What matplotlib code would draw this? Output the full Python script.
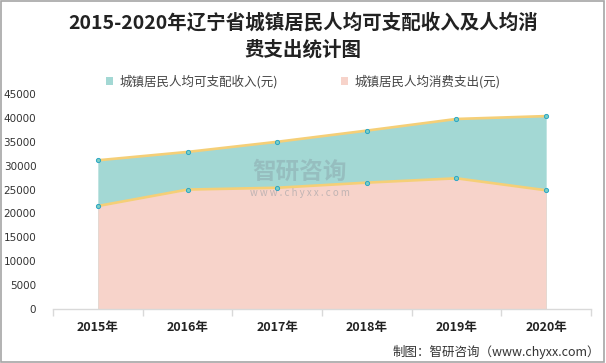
import numpy as np
import matplotlib.pyplot as plt
from matplotlib.patches import Rectangle

plt.rcParams['font.family'] = ['Noto Sans CJK SC', 'DejaVu Sans']

years = ['2015年', '2016年', '2017年', '2018年', '2019年', '2020年']
income = [31126, 32876, 34993, 37342, 39777, 40376]
consume = [21557, 24996, 25379, 26448, 27355, 24849]
yticks = [0, 5000, 10000, 15000, 20000, 25000, 30000, 35000, 40000, 45000]

fig = plt.figure(figsize=(6.06, 3.63), dpi=100)
ax = fig.add_axes([53 / 606, 1 - 309 / 363, 538 / 606, 215 / 363])

x = np.arange(len(years))
# overlapping areas, income behind consumption
ax.fill_between(x, income, color='#a3d8d4', lw=0, zorder=1, label='城镇居民人均可支配收入(元)')
ax.fill_between(x, consume, color='#f7d3ca', lw=0, zorder=2, label='城镇居民人均消费支出(元)')
for s in (income, consume):
    ax.plot(x, s, color='#f5cf77', lw=1.9, zorder=3)
    ax.plot(x, s, ls='none', marker='o', ms=3, mfc='#7ccfc4', mec='#2aa6c6', mew=0.7, zorder=4)

ax.set_xlim(-0.5, 5.5)
ax.set_ylim(0, 45000)
ax.set_yticks(yticks)
ax.set_yticklabels([str(v) for v in yticks], fontsize=7.5, color='#333333', family='DejaVu Sans')
ax.tick_params(axis='y', length=0, pad=12)
ax.set_xticks(x)
ax.set_xticklabels(years, fontsize=9, fontweight='bold', color='#222222')
ax.set_xticks(np.arange(-0.5, 6, 1), minor=True)
ax.tick_params(axis='x', which='major', length=0, pad=9)
ax.tick_params(axis='x', which='minor', length=5, color='#d9d9d9', width=1)
for side in ('top', 'right', 'left'):
    ax.spines[side].set_visible(False)
ax.spines['bottom'].set_color('#d9d9d9')
ax.spines['bottom'].set_linewidth(1)

# title
fig.text(0.5, 1 - 23 / 363, '2015-2020年辽宁省城镇居民人均可支配收入及人均消', ha='center', va='center',
         fontsize=14, fontweight='bold', color='#222222')
fig.text(0.5, 1 - 50 / 363, '费支出统计图', ha='center', va='center',
         fontsize=14, fontweight='bold', color='#222222')

# legend
fig.legend(loc='center', bbox_to_anchor=(0.5, 1 - 82 / 363), ncol=2, frameon=False,
           fontsize=9, handlelength=0.6, handleheight=0.6, columnspacing=5, handletextpad=0.5,
           labelcolor='#444444')

# watermark
fig.text(300 / 606, 1 - 172 / 363, '智研咨询', ha='center', va='center', fontsize=17,
         color='#7f8f99', alpha=0.35, fontweight='bold')
fig.text(300 / 606, 1 - 193 / 363, 'w w w . c h y x x . c o m', ha='center', va='center', fontsize=7,
         color='#7f8f99', alpha=0.45)

# source
fig.text(600 / 606, 1 - 352 / 363, '制图：智研咨询（www.chyxx.com）', ha='right', va='center',
         fontsize=9, color='#333333')

# border
fig.patches.append(Rectangle((0.002, 0.003), 0.994, 0.994, transform=fig.transFigure,
                             fill=False, ec='#a6a6a6', lw=1.2))

fig.savefig('out.png', dpi=100)
